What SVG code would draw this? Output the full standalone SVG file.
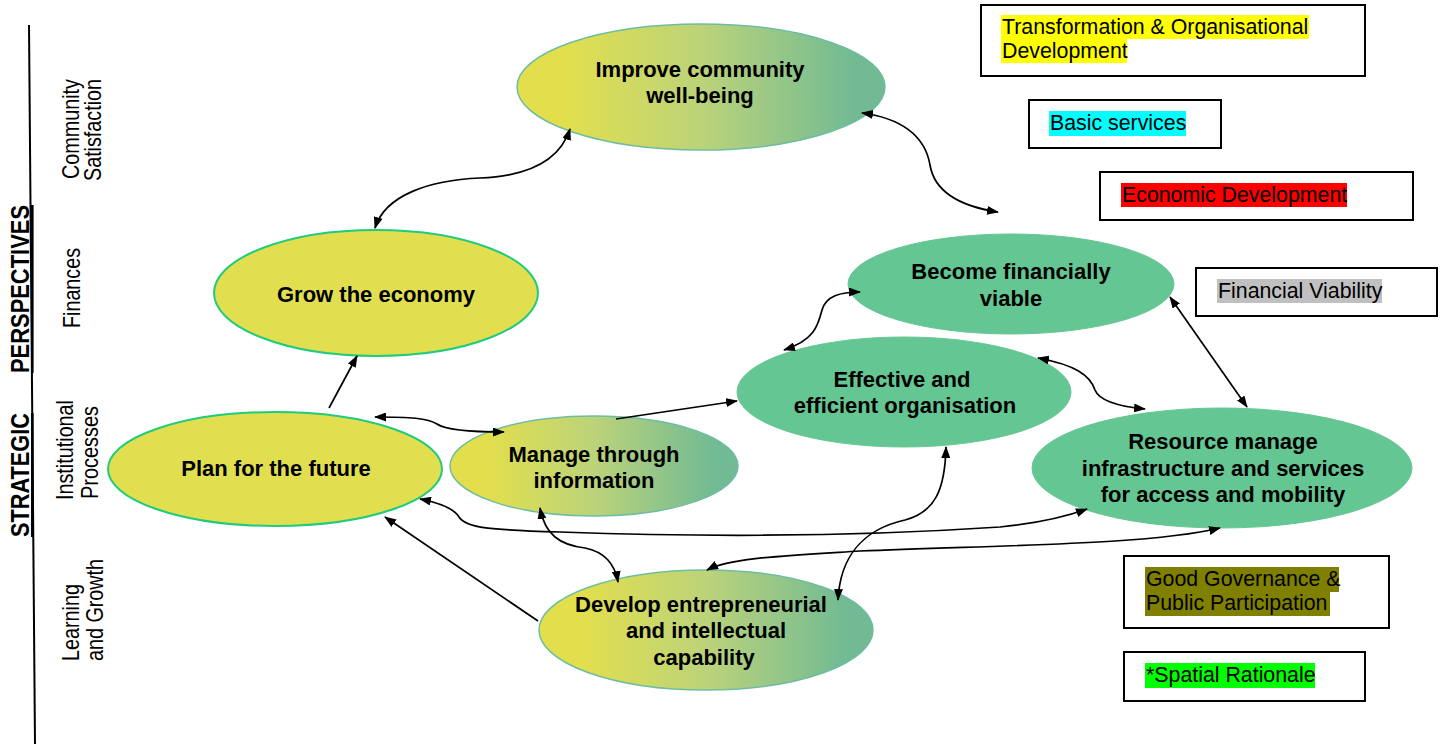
<svg xmlns="http://www.w3.org/2000/svg" width="1444" height="744" viewBox="0 0 1444 744">
<style>
.lbl{font-family:"Liberation Sans",Arial,sans-serif;font-size:24px;fill:#000}
.hdr{font-family:"Liberation Sans",Arial,sans-serif;font-size:26px;font-weight:bold;fill:#000;text-decoration:underline}
.nt{font-family:"Liberation Sans",Arial,sans-serif;font-size:22px;font-weight:bold;fill:#000;text-anchor:middle}
.lg{font-family:"Liberation Sans",Arial,sans-serif;font-size:21.33px;fill:#000}
.box{fill:#fff;stroke:#000;stroke-width:2}
.grad{fill:url(#g1);stroke:#6DBDA0;stroke-width:1.5}
.yel{fill:#E1DF50;stroke:#1FCB7C;stroke-width:2}
.grn{fill:#64C793;stroke:#64C793;stroke-width:1}
.c{fill:none;stroke:#000;stroke-width:1.7}
</style>
<defs>
<linearGradient id="g1" x1="0" y1="0" x2="1" y2="0">
<stop offset="0.12" stop-color="#E3DF4C"/>
<stop offset="0.5" stop-color="#BCD37A"/>
<stop offset="0.92" stop-color="#71BA94"/>
</linearGradient>
<marker id="ah" viewBox="0 0 12 9" refX="11" refY="4.5" markerWidth="12" markerHeight="9" markerUnits="userSpaceOnUse" orient="auto-start-reverse">
<path d="M0,0 L12,4.5 L0,9 z" fill="#000"/>
</marker>
</defs>
<rect width="1444" height="744" fill="#fff"/>

<g id="axis">
<line x1="29" y1="25" x2="35" y2="744" stroke="#000" stroke-width="2"/>
<text class="hdr" transform="translate(29,537) rotate(-90)" textLength="124" lengthAdjust="spacingAndGlyphs">STRATEGIC</text>
<text class="hdr" transform="translate(29,373) rotate(-90)" textLength="168" lengthAdjust="spacingAndGlyphs">PERSPECTIVES</text>
<text class="lbl" transform="translate(79,179) rotate(-90)" textLength="100" lengthAdjust="spacingAndGlyphs">Community</text>
<text class="lbl" transform="translate(101,181) rotate(-90)" textLength="102" lengthAdjust="spacingAndGlyphs">Satisfaction</text>
<text class="lbl" transform="translate(80,328) rotate(-90)" textLength="80" lengthAdjust="spacingAndGlyphs">Finances</text>
<text class="lbl" transform="translate(73,500) rotate(-90)" textLength="100" lengthAdjust="spacingAndGlyphs">Institutional</text>
<text class="lbl" transform="translate(98,499) rotate(-90)" textLength="93" lengthAdjust="spacingAndGlyphs">Processes</text>
<text class="lbl" transform="translate(79,661) rotate(-90)" textLength="77" lengthAdjust="spacingAndGlyphs">Learning</text>
<text class="lbl" transform="translate(103,661) rotate(-90)" textLength="102" lengthAdjust="spacingAndGlyphs">and Growth</text>
</g>

<g id="n-improve">
<ellipse class="grad" cx="701" cy="87" rx="184" ry="63"/>
<text class="nt" x="700" y="77">Improve community</text>
<text class="nt" x="700" y="103">well-being</text>
</g>
<g id="n-grow">
<ellipse class="yel" cx="376" cy="293" rx="162" ry="63"/>
<text class="nt" x="376" y="302">Grow the economy</text>
</g>
<g id="n-plan">
<ellipse class="yel" cx="275" cy="469" rx="167" ry="57"/>
<text class="nt" x="276" y="476">Plan for the future</text>
</g>
<g id="n-manage">
<ellipse class="grad" cx="594" cy="466" rx="144" ry="50"/>
<text class="nt" x="594" y="462">Manage through</text>
<text class="nt" x="594" y="488">information</text>
</g>
<g id="n-become">
<ellipse class="grn" cx="1011" cy="284" rx="163" ry="50"/>
<text class="nt" x="1011" y="279">Become financially</text>
<text class="nt" x="1011" y="306">viable</text>
</g>
<g id="n-effective">
<ellipse class="grn" cx="904" cy="392" rx="167" ry="55"/>
<text class="nt" x="902" y="387">Effective and</text>
<text class="nt" x="905" y="413">efficient organisation</text>
</g>
<g id="n-resource">
<ellipse class="grn" cx="1222" cy="468" rx="190" ry="60"/>
<text class="nt" x="1223" y="449">Resource manage</text>
<text class="nt" x="1223" y="476">infrastructure and services</text>
<text class="nt" x="1223" y="502">for access and mobility</text>
</g>
<g id="n-develop">
<ellipse class="grad" cx="706" cy="630" rx="167" ry="60"/>
<text class="nt" x="701" y="612">Develop entrepreneurial</text>
<text class="nt" x="706" y="638">and intellectual</text>
<text class="nt" x="704" y="665">capability</text>
</g>

<g id="connectors">
<path class="c" d="M375,228 C385,195 430,180 480,178 C530,176 560,160 570,129" marker-start="url(#ah)" marker-end="url(#ah)"/>
<path class="c" d="M862,113 C900,118 925,135 930,165 C935,195 965,207 998,212" marker-start="url(#ah)" marker-end="url(#ah)"/>
<path class="c" d="M329,408 L357,356" marker-end="url(#ah)"/>
<path class="c" d="M375,417 C410,417 428,418 437,424 C447,431 475,432 504,432" marker-start="url(#ah)" marker-end="url(#ah)"/>
<path class="c" d="M616,419 L737,401" marker-end="url(#ah)"/>
<path class="c" d="M784,350 C815,340 818,325 822,310 C826,296 840,292 860,292" marker-start="url(#ah)" marker-end="url(#ah)"/>
<path class="c" d="M1038,358 C1075,365 1090,375 1095,390 C1100,403 1125,407 1145,409" marker-start="url(#ah)" marker-end="url(#ah)"/>
<path class="c" d="M1170,297 L1247,407" marker-start="url(#ah)" marker-end="url(#ah)"/>
<path class="c" d="M946,447 C945,490 935,512 905,520 C860,530 840,560 838,600" marker-start="url(#ah)" marker-end="url(#ah)"/>
<path class="c" d="M540,508 C545,535 560,545 585,548 C605,552 615,565 618,582" marker-start="url(#ah)" marker-end="url(#ah)"/>
<path class="c" d="M420,499 C445,504 455,510 459,517 C466,528 490,530 560,532 C700,537 850,537 1000,527 C1040,523 1065,517 1087,509" marker-start="url(#ah)" marker-end="url(#ah)"/>
<path class="c" d="M707,570 C730,558 780,556 860,551 C1000,545 1150,545 1220,528" marker-start="url(#ah)" marker-end="url(#ah)"/>
<path class="c" d="M538,621 L385,517" marker-end="url(#ah)"/>
</g>

<g id="legend-transformation">
<rect class="box" x="981" y="5" width="384" height="71"/>
<rect x="1001" y="15" width="308" height="24" fill="#FFFF00"/>
<rect x="1001" y="39" width="126" height="24" fill="#FFFF00"/>
<text class="lg" x="1002" y="34">Transformation &amp; Organisational</text>
<text class="lg" x="1002" y="58">Development</text>
</g>
<g id="legend-basic">
<rect class="box" x="1029" y="100" width="192" height="48"/>
<rect x="1049" y="111" width="137" height="25" fill="#00FFFF"/>
<text class="lg" x="1050" y="130">Basic services</text>
</g>
<g id="legend-economic">
<rect class="box" x="1100" y="172" width="313" height="48"/>
<rect x="1121" y="183" width="226" height="24" fill="#FF0000"/>
<text class="lg" x="1122" y="202">Economic Development</text>
</g>
<g id="legend-financial">
<rect class="box" x="1196" y="268" width="241" height="48"/>
<rect x="1217" y="279" width="165" height="24" fill="#C0C0C0"/>
<text class="lg" x="1218" y="298">Financial Viability</text>
</g>
<g id="legend-governance">
<rect class="box" x="1124" y="556" width="265" height="72"/>
<rect x="1145" y="567" width="194" height="25" fill="#808000"/>
<rect x="1145" y="592" width="185" height="24" fill="#808000"/>
<text class="lg" x="1146" y="586">Good Governance &amp;</text>
<text class="lg" x="1146" y="610">Public Participation</text>
</g>
<g id="legend-spatial">
<rect class="box" x="1124" y="652" width="241" height="49"/>
<rect x="1145" y="663" width="170" height="25" fill="#00FF00"/>
<text class="lg" x="1146" y="682">*Spatial Rationale</text>
</g>
</svg>
